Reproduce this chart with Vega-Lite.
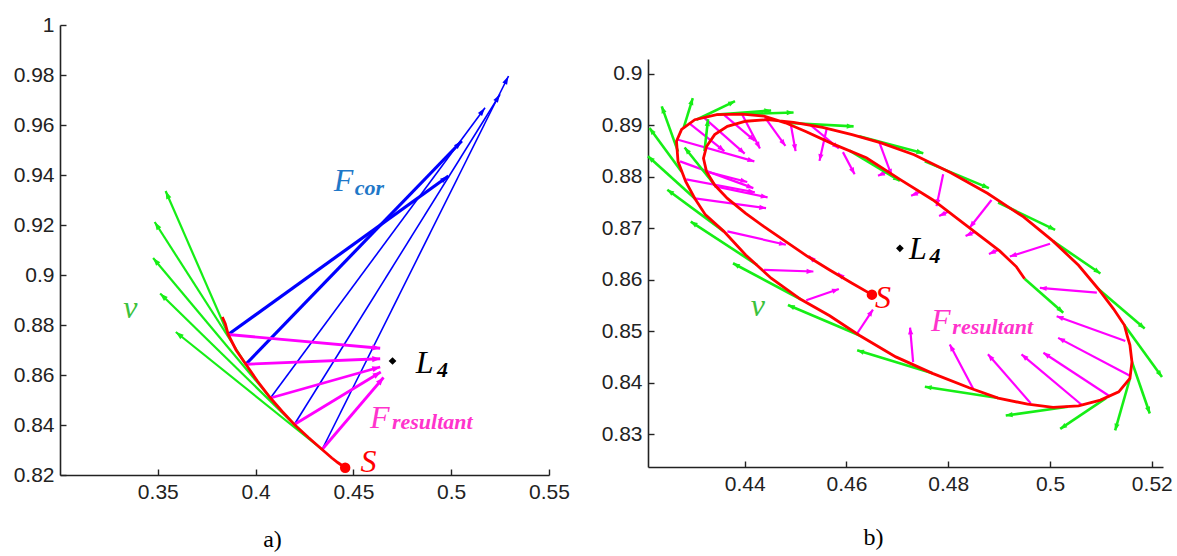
{
  "$schema": "https://vega.github.io/schema/vega-lite/v6.json",
  "background": "white",
  "padding": {"left": 13, "top": 14, "right": 2, "bottom": 0},
  "config": {
    "view": {"stroke": null},
    "axis": {"grid": false, "domainColor": "#222", "tickColor": "#222", "labelColor": "#222", "labelFont": "Liberation Sans", "labelFontSize": 21, "tickSize": -6, "domainWidth": 1.6, "tickWidth": 1.4, "labelPadding": 12, "labelFlush": false, "labelOverlap": false, "format": "~g"}
  },
  "datasets": {
    "a_traj": [
      {"i": 1, "x": 0.3830, "y": 0.8832}, {"i": 2, "x": 0.3845, "y": 0.8805}, {"i": 3, "x": 0.3860, "y": 0.8762},
      {"i": 4, "x": 0.3900, "y": 0.8700}, {"i": 5, "x": 0.3950, "y": 0.8643}, {"i": 6, "x": 0.4010, "y": 0.8575},
      {"i": 7, "x": 0.4076, "y": 0.8508}, {"i": 8, "x": 0.4135, "y": 0.8455}, {"i": 9, "x": 0.4198, "y": 0.8402},
      {"i": 10, "x": 0.4270, "y": 0.8350}, {"i": 11, "x": 0.4340, "y": 0.8302}, {"i": 12, "x": 0.4390, "y": 0.8268},
      {"i": 13, "x": 0.4420, "y": 0.8250}, {"i": 14, "x": 0.4458, "y": 0.8229}
    ],
    "a_cor": [
      {"k": 1, "x": 0.3860, "y": 0.8762, "x2": 0.4986, "y2": 0.9396},
      {"k": 2, "x": 0.3950, "y": 0.8643, "x2": 0.5054, "y2": 0.9536},
      {"k": 3, "x": 0.4076, "y": 0.8508, "x2": 0.5173, "y2": 0.9669},
      {"k": 4, "x": 0.4198, "y": 0.8402, "x2": 0.5250, "y2": 0.9723},
      {"k": 5, "x": 0.4340, "y": 0.8302, "x2": 0.5293, "y2": 0.9796}
    ],
    "a_v": [
      {"k": 1, "x": 0.3860, "y": 0.8762, "x2": 0.3540, "y2": 0.9336},
      {"k": 2, "x": 0.3950, "y": 0.8643, "x2": 0.3484, "y2": 0.9212},
      {"k": 3, "x": 0.4076, "y": 0.8508, "x2": 0.3476, "y2": 0.9068},
      {"k": 4, "x": 0.4198, "y": 0.8402, "x2": 0.3512, "y2": 0.8926},
      {"k": 5, "x": 0.4340, "y": 0.8302, "x2": 0.3592, "y2": 0.8772}
    ],
    "a_res": [
      {"k": 1, "x": 0.3860, "y": 0.8762, "x2": 0.4637, "y2": 0.8707},
      {"k": 2, "x": 0.3950, "y": 0.8643, "x2": 0.4637, "y2": 0.8665},
      {"k": 3, "x": 0.4076, "y": 0.8508, "x2": 0.4637, "y2": 0.8632},
      {"k": 4, "x": 0.4198, "y": 0.8402, "x2": 0.4640, "y2": 0.8612},
      {"k": 5, "x": 0.4340, "y": 0.8302, "x2": 0.4654, "y2": 0.8590}
    ],
    "a_pts": [{"k": "S", "x": 0.4458, "y": 0.8229}, {"k": "L4", "x": 0.4700, "y": 0.8656}],
    "a_lab": [
      {"t": "F", "x": 0.4399, "y": 0.9336, "s": "cor"},
      {"t": "v", "x": 0.3324, "y": 0.8829, "s": "v"},
      {"t": "L", "x": 0.4819, "y": 0.8607, "s": "L"},
      {"t": "F", "x": 0.4585, "y": 0.8389, "s": "res"},
      {"t": "S", "x": 0.4536, "y": 0.8213, "s": "S"}
    ],
    "a_sub": [
      {"t": "cor", "x": 0.4507, "y": 0.9320, "s": "cor"},
      {"t": "4", "x": 0.4927, "y": 0.8593, "s": "L"},
      {"t": "resultant", "x": 0.4697, "y": 0.8383, "s": "res"}
    ],
    "b_traj": [
      {"i": 1, "x": 0.4650, "y": 0.8571}, {"i": 2, "x": 0.4611, "y": 0.8593}, {"i": 3, "x": 0.4567, "y": 0.8619},
      {"i": 4, "x": 0.4524, "y": 0.8645}, {"i": 5, "x": 0.4481, "y": 0.8674}, {"i": 6, "x": 0.4438, "y": 0.8703},
      {"i": 7, "x": 0.4402, "y": 0.8729}, {"i": 8, "x": 0.4366, "y": 0.8758}, {"i": 9, "x": 0.4341, "y": 0.8784},
      {"i": 10, "x": 0.4325, "y": 0.8810}, {"i": 11, "x": 0.4319, "y": 0.8836}, {"i": 12, "x": 0.4325, "y": 0.8859},
      {"i": 13, "x": 0.4341, "y": 0.8882}, {"i": 14, "x": 0.4366, "y": 0.8898}, {"i": 15, "x": 0.4402, "y": 0.8908},
      {"i": 16, "x": 0.4445, "y": 0.8911}, {"i": 17, "x": 0.4496, "y": 0.8906}, {"i": 18, "x": 0.4553, "y": 0.8896},
      {"i": 19, "x": 0.4611, "y": 0.8882}, {"i": 20, "x": 0.4668, "y": 0.8866}, {"i": 21, "x": 0.4733, "y": 0.8843},
      {"i": 22, "x": 0.4805, "y": 0.8808}, {"i": 23, "x": 0.4877, "y": 0.8768}, {"i": 24, "x": 0.4948, "y": 0.8722},
      {"i": 25, "x": 0.5006, "y": 0.8675}, {"i": 26, "x": 0.5056, "y": 0.8628}, {"i": 27, "x": 0.5095, "y": 0.8582},
      {"i": 28, "x": 0.5125, "y": 0.8543}, {"i": 29, "x": 0.5146, "y": 0.8512}, {"i": 30, "x": 0.5152, "y": 0.8490},
      {"i": 31, "x": 0.5157, "y": 0.8473}, {"i": 32, "x": 0.5161, "y": 0.8440}, {"i": 33, "x": 0.5157, "y": 0.8408},
      {"i": 34, "x": 0.5135, "y": 0.8382}, {"i": 35, "x": 0.5099, "y": 0.8366}, {"i": 36, "x": 0.5056, "y": 0.8355},
      {"i": 37, "x": 0.5006, "y": 0.8352}, {"i": 38, "x": 0.4956, "y": 0.8358}, {"i": 39, "x": 0.4898, "y": 0.8370},
      {"i": 40, "x": 0.4841, "y": 0.8390}, {"i": 41, "x": 0.4769, "y": 0.8418}, {"i": 42, "x": 0.4697, "y": 0.8450},
      {"i": 43, "x": 0.4625, "y": 0.8492}, {"i": 44, "x": 0.4567, "y": 0.8530}, {"i": 45, "x": 0.4510, "y": 0.8562},
      {"i": 46, "x": 0.4452, "y": 0.8603}, {"i": 47, "x": 0.4402, "y": 0.8648}, {"i": 48, "x": 0.4359, "y": 0.8694},
      {"i": 49, "x": 0.4323, "y": 0.8726}, {"i": 50, "x": 0.4302, "y": 0.8758}, {"i": 51, "x": 0.4284, "y": 0.8791},
      {"i": 52, "x": 0.4269, "y": 0.8830}, {"i": 53, "x": 0.4266, "y": 0.8869}, {"i": 54, "x": 0.4276, "y": 0.8892},
      {"i": 55, "x": 0.4302, "y": 0.8911}, {"i": 56, "x": 0.4345, "y": 0.8921}, {"i": 57, "x": 0.4395, "y": 0.8922},
      {"i": 58, "x": 0.4438, "y": 0.8918}, {"i": 59, "x": 0.4480, "y": 0.8905}, {"i": 60, "x": 0.4520, "y": 0.8888},
      {"i": 61, "x": 0.4573, "y": 0.8864}, {"i": 62, "x": 0.4639, "y": 0.8837}, {"i": 63, "x": 0.4705, "y": 0.8795},
      {"i": 64, "x": 0.4770, "y": 0.8755}, {"i": 65, "x": 0.4836, "y": 0.8705}, {"i": 66, "x": 0.4901, "y": 0.8656},
      {"i": 67, "x": 0.4934, "y": 0.8625}, {"i": 68, "x": 0.4950, "y": 0.8602}
    ],
    "b_v": [
      {"x": 0.4269, "y": 0.8849, "x2": 0.4237, "y2": 0.8937},
      {"x": 0.4280, "y": 0.8895, "x2": 0.4298, "y2": 0.8953},
      {"x": 0.4305, "y": 0.8911, "x2": 0.4381, "y2": 0.8947},
      {"x": 0.4345, "y": 0.8921, "x2": 0.4452, "y2": 0.8929},
      {"x": 0.4395, "y": 0.8922, "x2": 0.4496, "y2": 0.8925},
      {"x": 0.4480, "y": 0.8905, "x2": 0.4614, "y2": 0.8898},
      {"x": 0.4625, "y": 0.8879, "x2": 0.4751, "y2": 0.8846},
      {"x": 0.4754, "y": 0.8830, "x2": 0.4880, "y2": 0.8778},
      {"x": 0.4898, "y": 0.8750, "x2": 0.5010, "y2": 0.8697},
      {"x": 0.5006, "y": 0.8675, "x2": 0.5099, "y2": 0.8612},
      {"x": 0.5095, "y": 0.8582, "x2": 0.5186, "y2": 0.8505},
      {"x": 0.5146, "y": 0.8512, "x2": 0.5220, "y2": 0.8411},
      {"x": 0.5161, "y": 0.8440, "x2": 0.5196, "y2": 0.8340},
      {"x": 0.5157, "y": 0.8408, "x2": 0.5128, "y2": 0.8307},
      {"x": 0.5110, "y": 0.8370, "x2": 0.5020, "y2": 0.8310},
      {"x": 0.5035, "y": 0.8353, "x2": 0.4913, "y2": 0.8336},
      {"x": 0.4898, "y": 0.8370, "x2": 0.4754, "y2": 0.8392},
      {"x": 0.4769, "y": 0.8418, "x2": 0.4621, "y2": 0.8463},
      {"x": 0.4625, "y": 0.8492, "x2": 0.4485, "y2": 0.8551},
      {"x": 0.4510, "y": 0.8562, "x2": 0.4377, "y2": 0.8632},
      {"x": 0.4424, "y": 0.8629, "x2": 0.4294, "y2": 0.8713},
      {"x": 0.4359, "y": 0.8694, "x2": 0.4248, "y2": 0.8775},
      {"x": 0.4302, "y": 0.8758, "x2": 0.4210, "y2": 0.8840},
      {"x": 0.4276, "y": 0.8810, "x2": 0.4213, "y2": 0.8895},
      {"x": 0.4341, "y": 0.8784, "x2": 0.4282, "y2": 0.8857},
      {"x": 0.4321, "y": 0.8850, "x2": 0.4328, "y2": 0.8912},
      {"x": 0.4606, "y": 0.8851, "x2": 0.4705, "y2": 0.8792},
      {"x": 0.4950, "y": 0.8602, "x2": 0.5026, "y2": 0.8536}
    ],
    "b_res": [
      {"x": 0.4290, "y": 0.8905, "x2": 0.4360, "y2": 0.8850},
      {"x": 0.4320, "y": 0.8915, "x2": 0.4400, "y2": 0.8845},
      {"x": 0.4360, "y": 0.8920, "x2": 0.4420, "y2": 0.8870},
      {"x": 0.4395, "y": 0.8921, "x2": 0.4430, "y2": 0.8855},
      {"x": 0.4440, "y": 0.8915, "x2": 0.4480, "y2": 0.8860},
      {"x": 0.4490, "y": 0.8905, "x2": 0.4500, "y2": 0.8850},
      {"x": 0.4530, "y": 0.8900, "x2": 0.4585, "y2": 0.8855},
      {"x": 0.4561, "y": 0.8893, "x2": 0.4547, "y2": 0.8831},
      {"x": 0.4593, "y": 0.8848, "x2": 0.4616, "y2": 0.8805},
      {"x": 0.4665, "y": 0.8866, "x2": 0.4689, "y2": 0.8802},
      {"x": 0.4790, "y": 0.8805, "x2": 0.4777, "y2": 0.8743},
      {"x": 0.4885, "y": 0.8755, "x2": 0.4842, "y2": 0.8701},
      {"x": 0.5000, "y": 0.8670, "x2": 0.4921, "y2": 0.8645},
      {"x": 0.5092, "y": 0.8575, "x2": 0.4980, "y2": 0.8584},
      {"x": 0.5148, "y": 0.8481, "x2": 0.5013, "y2": 0.8529},
      {"x": 0.5158, "y": 0.8413, "x2": 0.5016, "y2": 0.8487},
      {"x": 0.5118, "y": 0.8373, "x2": 0.4987, "y2": 0.8458},
      {"x": 0.5062, "y": 0.8357, "x2": 0.4944, "y2": 0.8455},
      {"x": 0.4962, "y": 0.8360, "x2": 0.4878, "y2": 0.8455},
      {"x": 0.4849, "y": 0.8388, "x2": 0.4803, "y2": 0.8474},
      {"x": 0.4731, "y": 0.8440, "x2": 0.4725, "y2": 0.8507},
      {"x": 0.4620, "y": 0.8494, "x2": 0.4652, "y2": 0.8542},
      {"x": 0.4521, "y": 0.8560, "x2": 0.4585, "y2": 0.8582},
      {"x": 0.4438, "y": 0.8619, "x2": 0.4535, "y2": 0.8616},
      {"x": 0.4366, "y": 0.8694, "x2": 0.4481, "y2": 0.8668},
      {"x": 0.4302, "y": 0.8758, "x2": 0.4442, "y2": 0.8739},
      {"x": 0.4285, "y": 0.8795, "x2": 0.4420, "y2": 0.8770},
      {"x": 0.4273, "y": 0.8830, "x2": 0.4417, "y2": 0.8778},
      {"x": 0.4269, "y": 0.8872, "x2": 0.4419, "y2": 0.8830},
      {"x": 0.4325, "y": 0.8810, "x2": 0.4405, "y2": 0.8790},
      {"x": 0.4340, "y": 0.8782, "x2": 0.4445, "y2": 0.8760},
      {"x": 0.4680, "y": 0.8810, "x2": 0.4662, "y2": 0.8802},
      {"x": 0.4745, "y": 0.8771, "x2": 0.4727, "y2": 0.8763},
      {"x": 0.4800, "y": 0.8732, "x2": 0.4782, "y2": 0.8724},
      {"x": 0.4852, "y": 0.8693, "x2": 0.4834, "y2": 0.8685},
      {"x": 0.4898, "y": 0.8658, "x2": 0.4880, "y2": 0.8650},
      {"x": 0.4538, "y": 0.8636, "x2": 0.4526, "y2": 0.8646},
      {"x": 0.4595, "y": 0.8603, "x2": 0.4583, "y2": 0.8613}
    ],
    "b_pts": [{"k": "S", "x": 0.4650, "y": 0.8571}, {"k": "L4", "x": 0.4705, "y": 0.8661}],
    "b_lab": [
      {"t": "L", "x": 0.4723, "y": 0.8640, "s": "L"},
      {"t": "S", "x": 0.4656, "y": 0.8546, "s": "S"},
      {"t": "v", "x": 0.4412, "y": 0.8529, "s": "v"},
      {"t": "F", "x": 0.4766, "y": 0.8500, "s": "res"}
    ],
    "b_sub": [
      {"t": "4", "x": 0.4763, "y": 0.8633, "s": "L"},
      {"t": "resultant", "x": 0.4808, "y": 0.8494, "s": "res"}
    ]
  },
  "spacing": 99,
  "bounds": "flush",
  "hconcat": [
    {
      "width": 489,
      "height": 450,
      "title": {"text": "a)", "orient": "bottom", "frame": "group", "dx": -32, "offset": 26, "font": "Liberation Serif", "fontSize": 24, "fontWeight": "normal", "color": "#000"},
      "layer": [
        {
          "data": {"name": "a_v"},
          "mark": {"type": "rule", "color": "#16ee16", "strokeWidth": 2.2},
          "encoding": {
            "x": {"field": "x", "type": "quantitative", "title": null, "scale": {"domain": [0.30, 0.55], "nice": false, "zero": false}, "axis": {"values": [0.35, 0.4, 0.45, 0.5, 0.55]}},
            "y": {"field": "y", "type": "quantitative", "title": null, "scale": {"domain": [0.82, 1.0], "nice": false, "zero": false}, "axis": {"values": [0.82, 0.84, 0.86, 0.88, 0.9, 0.92, 0.94, 0.96, 0.98, 1.0]}},
            "x2": {"field": "x2"},
            "y2": {"field": "y2"}
          }
        },
        {
          "data": {"name": "a_v"},
          "transform": [{"calculate": "atan2((datum.x2-datum.x)*1958,(datum.y2-datum.y)*2500)*180/PI", "as": "ang"}],
          "mark": {"type": "point", "shape": "M0,0L-0.45,1.3L0.45,1.3Z", "filled": true, "size": 150, "color": "#16ee16", "opacity": 1},
          "encoding": {
            "x": {"field": "x2", "type": "quantitative", "title": null},
            "y": {"field": "y2", "type": "quantitative", "title": null},
            "angle": {"field": "ang", "type": "quantitative", "scale": null}
          }
        },
        {
          "data": {"name": "a_cor"},
          "transform": [{"filter": "datum.k <= 2"}],
          "mark": {"type": "rule", "color": "#0000ff", "strokeWidth": 3.2},
          "encoding": {
            "x": {"field": "x", "type": "quantitative", "title": null},
            "y": {"field": "y", "type": "quantitative", "title": null},
            "x2": {"field": "x2"},
            "y2": {"field": "y2"}
          }
        },
        {
          "data": {"name": "a_cor"},
          "transform": [{"filter": "datum.k > 2"}],
          "mark": {"type": "rule", "color": "#0000ff", "strokeWidth": 1.6},
          "encoding": {
            "x": {"field": "x", "type": "quantitative", "title": null},
            "y": {"field": "y", "type": "quantitative", "title": null},
            "x2": {"field": "x2"},
            "y2": {"field": "y2"}
          }
        },
        {
          "data": {"name": "a_cor"},
          "transform": [{"calculate": "atan2((datum.x2-datum.x)*1958,(datum.y2-datum.y)*2500)*180/PI", "as": "ang"}],
          "mark": {"type": "point", "shape": "M0,0L-0.4,1.3L0.4,1.3Z", "filled": true, "size": 170, "color": "#0000ff", "opacity": 1},
          "encoding": {
            "x": {"field": "x2", "type": "quantitative", "title": null},
            "y": {"field": "y2", "type": "quantitative", "title": null},
            "angle": {"field": "ang", "type": "quantitative", "scale": null}
          }
        },
        {
          "data": {"name": "a_res"},
          "mark": {"type": "rule", "color": "#ff00ff", "strokeWidth": 2.8},
          "encoding": {
            "x": {"field": "x", "type": "quantitative", "title": null},
            "y": {"field": "y", "type": "quantitative", "title": null},
            "x2": {"field": "x2"},
            "y2": {"field": "y2"}
          }
        },
        {
          "data": {"name": "a_res"},
          "transform": [{"calculate": "atan2((datum.x2-datum.x)*1958,(datum.y2-datum.y)*2500)*180/PI", "as": "ang"}],
          "mark": {"type": "point", "shape": "M0,0L-0.5,1.3L0.5,1.3Z", "filled": true, "size": 150, "color": "#ff00ff", "opacity": 1},
          "encoding": {
            "x": {"field": "x2", "type": "quantitative", "title": null},
            "y": {"field": "y2", "type": "quantitative", "title": null},
            "angle": {"field": "ang", "type": "quantitative", "scale": null}
          }
        },
        {
          "data": {"name": "a_traj"},
          "mark": {"type": "line", "color": "#ff0000", "strokeWidth": 2.8},
          "encoding": {
            "x": {"field": "x", "type": "quantitative", "title": null},
            "y": {"field": "y", "type": "quantitative", "title": null},
            "order": {"field": "i", "type": "quantitative"}
          }
        },
        {
          "data": {"name": "a_pts"},
          "transform": [{"filter": "datum.k == 'S'"}],
          "mark": {"type": "point", "shape": "circle", "filled": true, "size": 110, "color": "#ff0000", "opacity": 1},
          "encoding": {
            "x": {"field": "x", "type": "quantitative", "title": null},
            "y": {"field": "y", "type": "quantitative", "title": null}
          }
        },
        {
          "data": {"name": "a_pts"},
          "transform": [{"filter": "datum.k == 'L4'"}],
          "mark": {"type": "point", "shape": "diamond", "filled": true, "size": 60, "color": "#000000", "opacity": 1},
          "encoding": {
            "x": {"field": "x", "type": "quantitative", "title": null},
            "y": {"field": "y", "type": "quantitative", "title": null}
          }
        },
        {
          "data": {"name": "a_lab"},
          "mark": {"type": "text", "font": "Liberation Serif", "fontStyle": "italic", "fontSize": 32, "align": "left", "baseline": "alphabetic"},
          "encoding": {
            "x": {"field": "x", "type": "quantitative", "title": null},
            "y": {"field": "y", "type": "quantitative", "title": null},
            "text": {"field": "t"},
            "color": {"field": "s", "type": "nominal", "legend": null, "scale": {"domain": ["cor", "v", "L", "res", "S"], "range": ["#1f78c8", "#3cc23c", "#000000", "#ff33cc", "#ff0000"]}}
          }
        },
        {
          "data": {"name": "a_sub"},
          "mark": {"type": "text", "font": "Liberation Serif", "fontStyle": "italic", "fontWeight": "bold", "fontSize": 22, "align": "left", "baseline": "alphabetic"},
          "encoding": {
            "x": {"field": "x", "type": "quantitative", "title": null},
            "y": {"field": "y", "type": "quantitative", "title": null},
            "text": {"field": "t"},
            "color": {"field": "s", "type": "nominal", "legend": null}
          }
        }
      ]
    },
    {
      "width": 515,
      "height": 442,
      "title": {"text": "b)", "orient": "bottom", "frame": "group", "dx": -32, "offset": 32, "font": "Liberation Serif", "fontSize": 24, "fontWeight": "normal", "color": "#000"},
      "layer": [
        {
          "data": {"name": "b_res"},
          "mark": {"type": "rule", "color": "#ff00ff", "strokeWidth": 2.2},
          "encoding": {
            "x": {"field": "x", "type": "quantitative", "title": null, "scale": {"domain": [0.421, 0.5222], "nice": false, "zero": false}, "axis": {"values": [0.44, 0.46, 0.48, 0.5, 0.52]}},
            "y": {"field": "y", "type": "quantitative", "title": null, "scale": {"domain": [0.8236, 0.9029], "nice": false, "zero": false, "range": [442, 34]}, "axis": {"values": [0.83, 0.84, 0.85, 0.86, 0.87, 0.88, 0.89, 0.9]}},
            "x2": {"field": "x2"},
            "y2": {"field": "y2"}
          }
        },
        {
          "data": {"name": "b_res"},
          "transform": [{"calculate": "atan2((datum.x2-datum.x)*5089,(datum.y2-datum.y)*5145)*180/PI", "as": "ang"}],
          "mark": {"type": "point", "shape": "M0,0L-0.5,1.3L0.5,1.3Z", "filled": true, "size": 110, "color": "#ff00ff", "opacity": 1},
          "encoding": {
            "x": {"field": "x2", "type": "quantitative", "title": null},
            "y": {"field": "y2", "type": "quantitative", "title": null},
            "angle": {"field": "ang", "type": "quantitative", "scale": null}
          }
        },
        {
          "data": {"name": "b_v"},
          "mark": {"type": "rule", "color": "#16ee16", "strokeWidth": 2.6},
          "encoding": {
            "x": {"field": "x", "type": "quantitative", "title": null},
            "y": {"field": "y", "type": "quantitative", "title": null},
            "x2": {"field": "x2"},
            "y2": {"field": "y2"}
          }
        },
        {
          "data": {"name": "b_v"},
          "transform": [{"calculate": "atan2((datum.x2-datum.x)*5089,(datum.y2-datum.y)*5145)*180/PI", "as": "ang"}],
          "mark": {"type": "point", "shape": "M0,0L-0.5,1.3L0.5,1.3Z", "filled": true, "size": 110, "color": "#16ee16", "opacity": 1},
          "encoding": {
            "x": {"field": "x2", "type": "quantitative", "title": null},
            "y": {"field": "y2", "type": "quantitative", "title": null},
            "angle": {"field": "ang", "type": "quantitative", "scale": null}
          }
        },
        {
          "data": {"name": "b_traj"},
          "mark": {"type": "line", "color": "#ff0000", "strokeWidth": 2.8},
          "encoding": {
            "x": {"field": "x", "type": "quantitative", "title": null},
            "y": {"field": "y", "type": "quantitative", "title": null},
            "order": {"field": "i", "type": "quantitative"}
          }
        },
        {
          "data": {"name": "b_pts"},
          "transform": [{"filter": "datum.k == 'S'"}],
          "mark": {"type": "point", "shape": "circle", "filled": true, "size": 110, "color": "#ff0000", "opacity": 1},
          "encoding": {
            "x": {"field": "x", "type": "quantitative", "title": null},
            "y": {"field": "y", "type": "quantitative", "title": null}
          }
        },
        {
          "data": {"name": "b_pts"},
          "transform": [{"filter": "datum.k == 'L4'"}],
          "mark": {"type": "point", "shape": "diamond", "filled": true, "size": 60, "color": "#000000", "opacity": 1},
          "encoding": {
            "x": {"field": "x", "type": "quantitative", "title": null},
            "y": {"field": "y", "type": "quantitative", "title": null}
          }
        },
        {
          "data": {"name": "b_lab"},
          "mark": {"type": "text", "font": "Liberation Serif", "fontStyle": "italic", "fontSize": 32, "align": "left", "baseline": "alphabetic"},
          "encoding": {
            "x": {"field": "x", "type": "quantitative", "title": null},
            "y": {"field": "y", "type": "quantitative", "title": null},
            "text": {"field": "t"},
            "color": {"field": "s", "type": "nominal", "legend": null, "scale": {"domain": ["cor", "v", "L", "res", "S"], "range": ["#1f78c8", "#3cc23c", "#000000", "#ff33cc", "#ff0000"]}}
          }
        },
        {
          "data": {"name": "b_sub"},
          "mark": {"type": "text", "font": "Liberation Serif", "fontStyle": "italic", "fontWeight": "bold", "fontSize": 22, "align": "left", "baseline": "alphabetic"},
          "encoding": {
            "x": {"field": "x", "type": "quantitative", "title": null},
            "y": {"field": "y", "type": "quantitative", "title": null},
            "text": {"field": "t"},
            "color": {"field": "s", "type": "nominal", "legend": null}
          }
        }
      ]
    }
  ]
}
